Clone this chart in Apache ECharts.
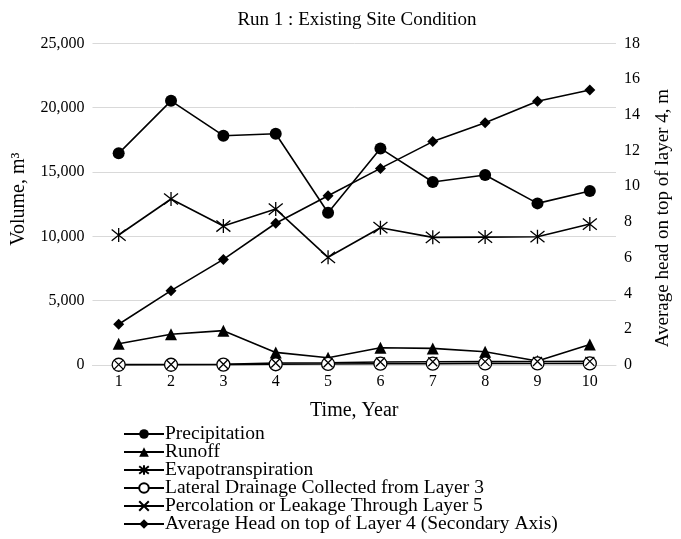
<!DOCTYPE html>
<html><head><meta charset="utf-8">
<script src="https://cdn.jsdelivr.net/npm/echarts@6/dist/echarts.min.js"></script>
<style>html,body{margin:0;padding:0;background:#fff;overflow:hidden}#c{width:681px;height:539px}</style>
</head><body><div id="c"></div>
<script>
const years = ['1','2','3','4','5','6','7','8','9','10'];
const precipitation = [16450, 20530, 17820, 17970, 11830, 16830, 14220, 14760, 12560, 13520];
const runoff = [1650, 2390, 2670, 980, 560, 1340, 1290, 1030, 310, 1600];
const evapotranspiration = [10100, 12900, 10800, 12120, 8370, 10670, 9920, 9940, 9970, 10950];
const lateralDrainage = [20, 20, 30, 60, 80, 100, 100, 120, 120, 120];
const percolation = [30, 40, 60, 150, 180, 230, 250, 260, 270, 280];
const averageHead = [2.28, 4.16, 5.91, 7.93, 9.47, 11.0, 12.5, 13.56, 14.76, 15.39];

const F = 'Liberation Serif';
const starPath = 'path://M0,-10L0,10M-8,-8L8,8M-8,8L8,-8';
const xPath = 'path://M-8,-8L8,8M-8,8L8,-8';

function mk(name, data, symbol, size, fill, extra) {
  return Object.assign({
    name, type: 'line', data, symbol, symbolSize: size, showSymbol: true,
    lineStyle: {color: '#000', width: 1.6},
    itemStyle: {color: fill, borderColor: '#000', borderWidth: (fill === '#000' ? 0 : 1.3)},
    emphasis: {disabled: true}, animation: false
  }, extra || {});
}

const chart = echarts.init(document.getElementById('c'));
chart.setOption({
  animation: false,
  title: {text: 'Run 1 : Existing Site Condition', left: 352, top: 6, textAlign: 'center',
    textStyle: {fontFamily: F, fontSize: 19, fontWeight: 'normal', color: '#000'}},
  grid: {left: 92.5, right: 58.5, top: 43.3, bottom: 174, containLabel: false},
  legend: {orient: 'vertical', left: 118, top: 419, height: 140, itemGap: -2, itemWidth: 40, itemHeight: 12,
    textStyle: {fontFamily: F, fontSize: 19.5, color: '#000', padding: [0,0,0,-4]},
    data: ['Precipitation','Runoff','Evapotranspiration','Lateral Drainage Collected from Layer 3','Percolation or Leakage Through Layer 5','Average Head on top of Layer 4 (Secondary Axis)']},
  xAxis: {type: 'category', data: years, boundaryGap: true,
    name: 'Time, Year', nameLocation: 'middle', nameGap: 36,
    nameTextStyle: {fontFamily: F, fontSize: 20, color: '#000'},
    axisLine: {lineStyle: {color: '#d9d9d9'}}, axisTick: {show: false},
    axisLabel: {fontFamily: F, fontSize: 16, color: '#000', margin: 9}},
  yAxis: [
    {type: 'value', min: 0, max: 25000, interval: 5000,
      name: 'Volume, m³', nameLocation: 'middle', nameGap: 64, nameRotate: 90,
      nameTextStyle: {fontFamily: F, fontSize: 20, color: '#000', padding: [0, 0, 0, 10]},
      axisLine: {show: false}, axisTick: {show: false},
      axisLabel: {fontFamily: F, fontSize: 16, color: '#000', margin: 8,
        formatter: v => v.toLocaleString('en-US')},
      splitLine: {lineStyle: {color: '#d9d9d9', width: 1}}},
    {type: 'value', min: 0, max: 18, interval: 2, position: 'right',
      name: 'Average head on top of layer 4, m', nameLocation: 'middle', nameGap: 38, nameRotate: 90,
      nameTextStyle: {fontFamily: F, fontSize: 19, color: '#000', padding: [0, 28, 0, 0]},
      axisLine: {show: false}, axisTick: {show: false},
      axisLabel: {fontFamily: F, fontSize: 16, color: '#000', margin: 8},
      splitLine: {show: false}}
  ],
  series: [
    mk('Precipitation', precipitation, 'circle', 12, '#000'),
    mk('Runoff', runoff, 'triangle', 12, '#000'),
    mk('Evapotranspiration', evapotranspiration, starPath, 14, 'none', {itemStyle: {color: '#000', borderColor: '#000', borderWidth: 1.3}}),
    mk('Lateral Drainage Collected from Layer 3', lateralDrainage, 'circle', 13, '#fff'),
    mk('Percolation or Leakage Through Layer 5', percolation, xPath, 9, 'none', {itemStyle: {color: '#000', borderColor: '#000', borderWidth: 1.3}}),
    mk('Average Head on top of Layer 4 (Secondary Axis)', averageHead, 'diamond', 11, '#000', {yAxisIndex: 1})
  ]
});
</script></body></html>
